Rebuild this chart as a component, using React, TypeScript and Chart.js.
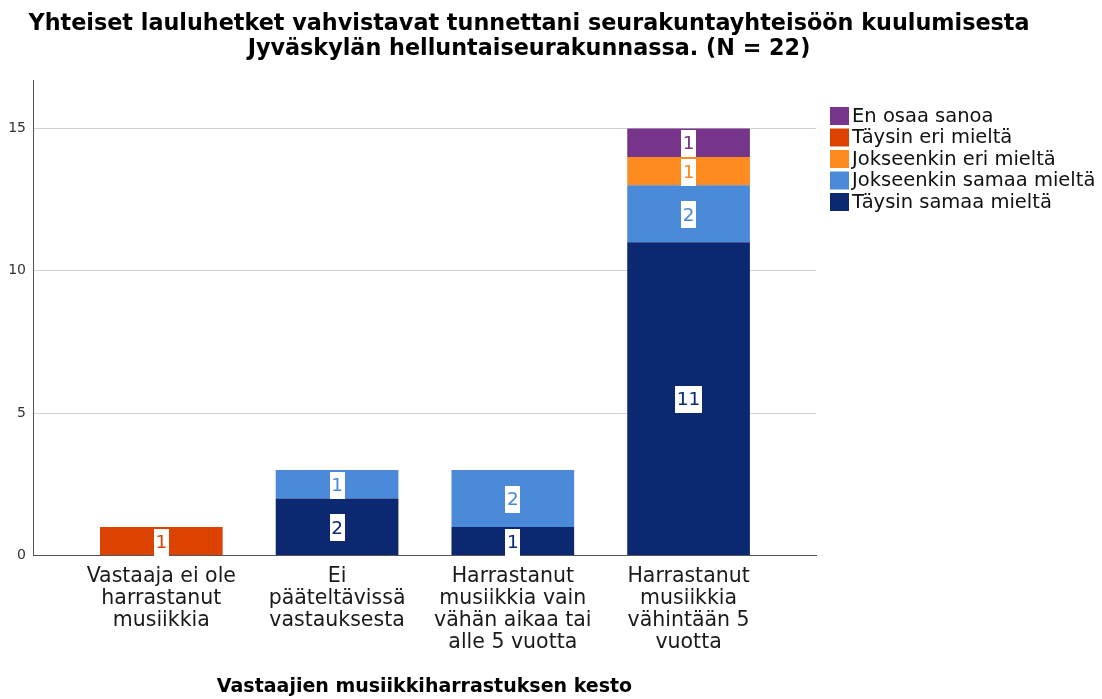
import React, { useEffect, useRef } from "react";
import { Chart, registerables } from "chart.js";

Chart.register(...registerables);

const titleLines = [
  "Yhteiset lauluhetket vahvistavat tunnettani seurakuntayhteisöön kuulumisesta",
  "Jyväskylän helluntaiseurakunnassa. (N = 22)",
];
const xAxisTitle = "Vastaajien musiikkiharrastuksen kesto";

const categories: string[][] = [
  ["Vastaaja ei ole", "harrastanut", "musiikkia"],
  ["Ei", "pääteltävissä", "vastauksesta"],
  ["Harrastanut", "musiikkia vain", "vähän aikaa tai", "alle 5 vuotta"],
  ["Harrastanut", "musiikkia", "vähintään 5", "vuotta"],
];

// stacked from bottom to top
const seriesNames = [
  "Täysin samaa mieltä",
  "Jokseenkin samaa mieltä",
  "Jokseenkin eri mieltä",
  "Täysin eri mieltä",
  "En osaa sanoa",
];
const taysinSamaa = [0, 2, 1, 11];
const jokseenkinSamaa = [0, 1, 2, 2];
const jokseenkinEri = [0, 0, 0, 1];
const taysinEri = [1, 0, 0, 0];
const enOsaaSanoa = [0, 0, 0, 1];
const seriesValues = [taysinSamaa, jokseenkinSamaa, jokseenkinEri, taysinEri, enOsaaSanoa];
const seriesColors = ["#0b2870", "#4a8ad8", "#fd8b1f", "#dc4300", "#76358b"];

const yTicks = [0, 5, 10, 15];
const yMax = 16.7;

const W = 1102;
const H = 699;

const overlayPlugin = {
  id: "overlay",
  afterDatasetsDraw(chart: any) {
    const ctx = chart.ctx;
    ctx.save();
    ctx.font = "18.5px 'DejaVu Sans'";
    ctx.textAlign = "center";
    ctx.textBaseline = "middle";
    chart.data.datasets.forEach((ds: any, di: number) => {
      const meta = chart.getDatasetMeta(di);
      meta.data.forEach((bar: any, i: number) => {
        const v = ds.data[i]?.y;
        if (v === null || v === undefined) return;
        const txt = String(v);
        const cx = bar.x;
        const cy = (bar.y + bar.base) / 2 + 1;
        const tw = ctx.measureText(txt).width;
        const bw = tw + 3;
        const bh = 27;
        ctx.fillStyle = "#ffffff";
        ctx.fillRect(Math.round(cx - bw / 2), Math.round(cy - bh / 2), Math.round(bw), bh);
        ctx.fillStyle = seriesColors[di];
        ctx.fillText(txt, cx, cy + 1);
      });
    });
    ctx.restore();
  },
  afterDraw(chart: any) {
    const ctx = chart.ctx;
    ctx.save();
    // title
    ctx.fillStyle = "#000";
    ctx.font = "bold 22.3px 'DejaVu Sans'";
    ctx.textAlign = "center";
    ctx.textBaseline = "alphabetic";
    ctx.fillText(titleLines[0], 529, 29.5);
    ctx.fillText(titleLines[1], 529, 55);
    // legend (reverse order)
    ctx.font = "19.5px 'DejaVu Sans'";
    ctx.textAlign = "left";
    ctx.textBaseline = "middle";
    const order = seriesNames.map((_, i) => i).reverse();
    order.forEach((si, row) => {
      const top = 107 + row * 21.5;
      ctx.fillStyle = seriesColors[si];
      ctx.fillRect(830, top, 19, 18);
      ctx.fillStyle = "#111";
      ctx.fillText(seriesNames[si], 852, top + 9.5);
    });
    ctx.restore();
  },
};

export default function App() {
  const ref = useRef<HTMLCanvasElement | null>(null);
  useEffect(() => {
    if (!ref.current) return;
    const datasets = seriesNames.map((name, si) => ({
      label: name,
      data: categories.map((_, i) => ({ x: i, y: seriesValues[si][i] === 0 ? null : seriesValues[si][i] })),
      backgroundColor: seriesColors[si],
      borderWidth: 0,
      categoryPercentage: 1,
      barPercentage: 0.698,
    }));
    const chart = new Chart(ref.current, {
      type: "bar",
      data: { datasets } as any,
      options: {
        animation: false,
        responsive: true,
        maintainAspectRatio: false,
        layout: { padding: { top: 80, right: 286, left: 0, bottom: 0 } },
        plugins: {
          legend: { display: false },
          title: { display: false },
          tooltip: { enabled: false },
        },
        scales: {
          x: {
            type: "linear",
            stacked: true,
            offset: false,
            min: -0.73,
            max: 3.725,
            grid: { display: false, drawTicks: false },
            border: { display: true, color: "#555", width: 1 },
            afterBuildTicks: (scale: any) => {
              scale.ticks = categories.map((_, i) => ({ value: i }));
            },
            afterFit: (scale: any) => {
              scale.height = H - 555.5;
            },
            ticks: {
              autoSkip: false,
              maxRotation: 0,
              minRotation: 0,
              padding: 10,
              color: "#1a1a1a",
              font: { family: "'DejaVu Sans'", size: 20.5, lineHeight: "22px" } as any,
              callback: (v: any) => categories[Math.round(v)] ?? "",
            },
            title: {
              display: true,
              text: xAxisTitle,
              color: "#000",
              font: { family: "'DejaVu Sans'", size: 19, weight: "bold", lineHeight: 1.2 },
              padding: { top: 0, bottom: 1 },
            },
          },
          y: {
            stacked: true,
            min: 0,
            max: yMax,
            afterBuildTicks: (scale: any) => {
              scale.ticks = yTicks.map((v) => ({ value: v }));
            },
            afterFit: (scale: any) => {
              scale.width = 33;
            },
            grid: {
              drawTicks: false,
              color: (c: any) => (c.tick && c.tick.value === 0 ? "rgba(0,0,0,0)" : "#d2d2d2"),
              lineWidth: 1,
            },
            border: { display: true, color: "#555", width: 1 },
            ticks: {
              padding: 7,
              color: "#333",
              font: { family: "'DejaVu Sans'", size: 14 },
            },
          },
        },
      } as any,
      plugins: [overlayPlugin],
    });
    return () => chart.destroy();
  }, []);
  return (
    <div style={{ position: "fixed", left: 0, top: 0, width: W, height: H, background: "#fff" }}>
      <canvas ref={ref} />
    </div>
  );
}
